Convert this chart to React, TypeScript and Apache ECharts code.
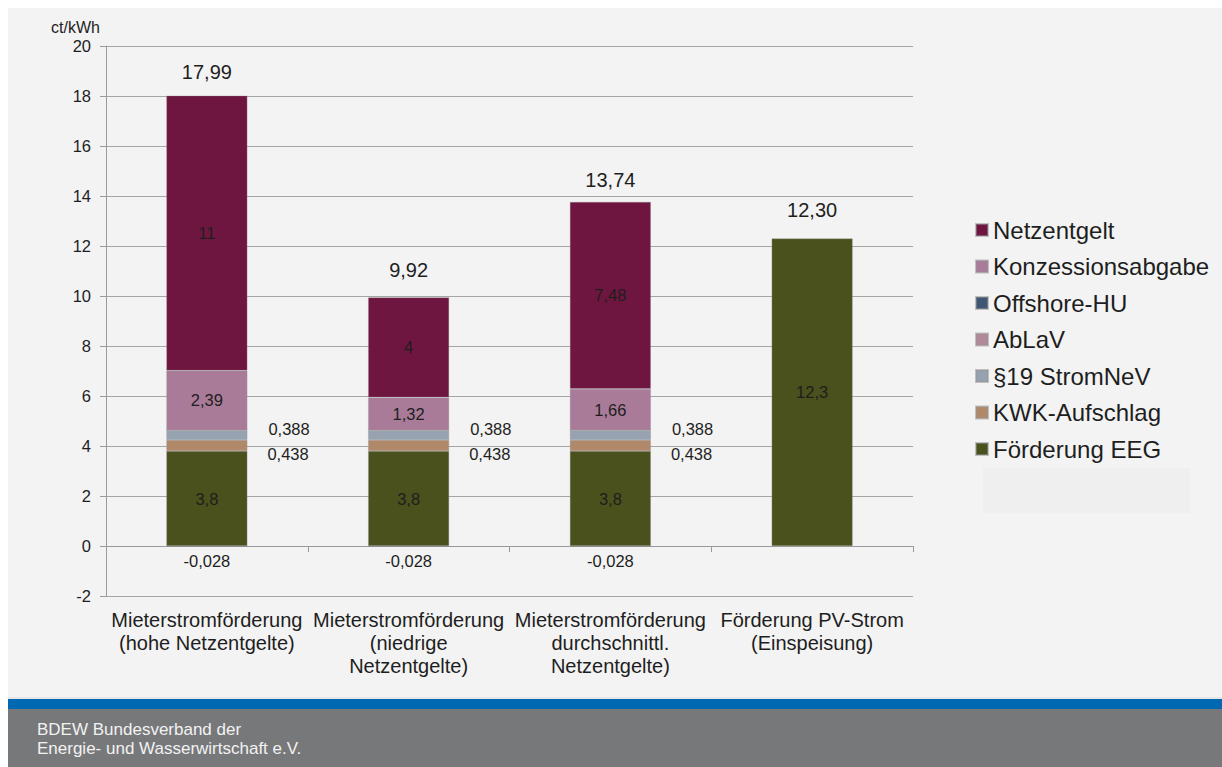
import React, { useEffect, useRef } from "react";
import * as echarts from "echarts";

const categories = [
  "Mieterstromförderung\n(hohe Netzentgelte)",
  "Mieterstromförderung\n(niedrige\nNetzentgelte)",
  "Mieterstromförderung\ndurchschnittl.\nNetzentgelte)",
  "Förderung PV-Strom\n(Einspeisung)",
];
const foerderungEEG = [3.8, 3.8, 3.8, 12.3];
const kwkAufschlag = [0.438, 0.438, 0.438, null];
const stromNeV19 = [0.388, 0.388, 0.388, null];
const abLaV = [0, 0, 0, null];
const offshoreHU = [-0.028, -0.028, -0.028, null];
const konzessionsabgabe = [2.39, 1.32, 1.66, null];
const netzentgelt = [11, 4, 7.48, null];
const totals = [17.99, 9.92, 13.74, 12.3];
const totalLabelGaps = [14, 18, 12.5, 18.5];
const yTicks = { min: -2, max: 20, interval: 2 };
const unitLabel = "ct/kWh";
const legendOrder = [
  "Netzentgelt",
  "Konzessionsabgabe",
  "Offshore-HU",
  "AbLaV",
  "§19 StromNeV",
  "KWK-Aufschlag",
  "Förderung EEG",
];
const footerLines = ["BDEW Bundesverband der", "Energie- und Wasserwirtschaft e.V."];

const FONT = "'Liberation Sans', Arial, sans-serif";
const TXT = "#1e1e1e";
const comma = (v: any) => (v === null || v === undefined ? "" : String(v).replace(".", ","));

export default function App() {
  const ref = useRef<HTMLDivElement>(null);
  useEffect(() => {
    if (!ref.current) return;
    const chart = echarts.init(ref.current, null, { renderer: "svg" });
    const barWidth = 81;
    const border = { borderColor: "rgba(150,150,150,0.55)", borderWidth: 0.6 };
    const inside = { show: true, position: "inside", color: TXT, fontSize: 16.5, fontFamily: FONT, formatter: (p: any) => comma(p.value) };
    const mk = (name: string, data: any[], color: string, label: any) => ({
      name,
      type: "bar",
      stack: "total",
      barWidth,
      data,
      itemStyle: { color, ...border },
      label,
      emphasis: { disabled: true },
    });
    chart.setOption({
      animation: false,
      backgroundColor: "#f3f3f3",
      textStyle: { fontFamily: FONT },
      grid: { left: 98, right: 309, top: 38, bottom: 171, containLabel: false },
      legend: {
        data: legendOrder,
        orient: "vertical",
        left: 962,
        top: 205,
        itemWidth: 12,
        itemHeight: 12,
        itemGap: 12.5,
        icon: "rect",
        textStyle: { fontSize: 24, color: TXT, fontFamily: FONT },
        selectedMode: false,
      },
      xAxis: [
        {
          type: "category",
          data: categories,
          position: "bottom",
          axisLine: { show: true, onZero: true, lineStyle: { color: "#9a9a9a", width: 1 } },
          axisTick: { show: true, length: 6, lineStyle: { color: "#9a9a9a" } },
          axisLabel: { show: false },
          splitLine: { show: false },
        },
        {
          type: "category",
          data: categories,
          position: "bottom",
          axisLine: { show: false, onZero: false },
          axisTick: { show: false },
          axisLabel: { show: true, fontSize: 20, color: TXT, fontFamily: FONT, lineHeight: 23, margin: 12, interval: 0 },
          splitLine: { show: false },
        },
      ],
      yAxis: {
        type: "value",
        min: yTicks.min,
        max: yTicks.max,
        interval: yTicks.interval,
        axisLine: { show: true, lineStyle: { color: "#9a9a9a" } },
        axisTick: { show: true, length: 6, lineStyle: { color: "#9a9a9a" } },
        axisLabel: { fontSize: 16.5, color: TXT, fontFamily: FONT, margin: 15 },
        splitLine: { show: true, lineStyle: { color: "#a6a6a6", width: 1 } },
      },
      series: [
        mk("Förderung EEG", foerderungEEG, "#4a511c", inside),
        mk("KWK-Aufschlag", kwkAufschlag, "#b0896a", {
          show: true, position: "right", distance: 20, offset: [0, 8], color: TXT, fontSize: 16.5, fontFamily: FONT,
          formatter: (p: any) => comma(p.value),
        }),
        mk("§19 StromNeV", stromNeV19, "#97a2b0", {
          show: true, position: "right", distance: 20, offset: [1, -6], color: TXT, fontSize: 16.5, fontFamily: FONT,
          formatter: (p: any) => comma(p.value),
        }),
        mk("AbLaV", abLaV, "#b28998", { show: false }),
        mk("Offshore-HU", offshoreHU, "#3f5774", {
          show: true, position: "bottom", distance: 6, color: TXT, fontSize: 16.5, fontFamily: FONT,
          formatter: (p: any) => comma(p.value),
        }),
        mk("Konzessionsabgabe", konzessionsabgabe, "#a97b98", inside),
        mk("Netzentgelt", netzentgelt, "#6e1640", inside),
        {
          name: "Summe",
          type: "bar",
          barWidth,
          barGap: "-100%",
          data: totals.map((v, i) => ({ value: v, label: { distance: totalLabelGaps[i] } })),
          itemStyle: { color: "rgba(0,0,0,0)" },
          label: {
            show: true, position: "top", color: TXT, fontSize: 20, fontFamily: FONT,
            formatter: (p: any) => Number(p.value).toFixed(2).replace(".", ","),
          },
          emphasis: { disabled: true },
          z: 1,
        },
      ],
      graphic: [
        { type: "text", left: 43, top: 11, style: { text: unitLabel, fontSize: 16, fill: TXT, fontFamily: FONT } },
        { type: "rect", shape: { x: 975, y: 460, width: 207, height: 45 }, style: { fill: "#efefef" }, silent: true },
        { type: "rect", shape: { x: 0, y: 689, width: 1214, height: 2 }, style: { fill: "#e6e6e6" }, silent: true },
        { type: "rect", shape: { x: 0, y: 691, width: 1214, height: 10 }, style: { fill: "#0067b1" }, silent: true },
        { type: "rect", shape: { x: 0, y: 701, width: 1214, height: 58 }, style: { fill: "#77787a" }, silent: true },
        {
          type: "text",
          left: 29,
          top: 712,
          style: { text: footerLines.join("\n"), fontSize: 17, lineHeight: 19, fill: "#f2f2f2", fontFamily: FONT },
        },
      ],
    });
    return () => chart.dispose();
  }, []);
  return (
    <div
      ref={ref}
      style={{ position: "absolute", left: 8, top: 8, width: 1214, height: 759 }}
    />
  );
}
